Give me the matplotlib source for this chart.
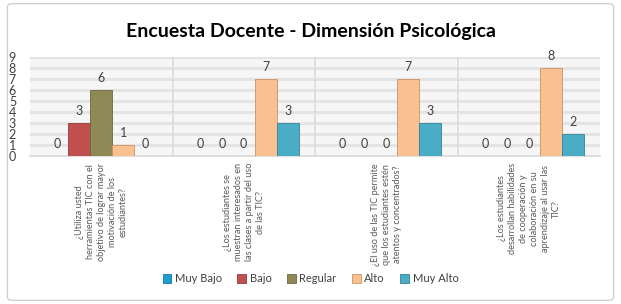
import matplotlib
matplotlib.use("Agg")
import matplotlib.pyplot as plt
import numpy as np
from matplotlib.patches import FancyBboxPatch

plt.rcParams['font.family'] = ['Lato', 'DejaVu Sans']

categories = [
    "¿Utiliza usted\nherramientas TIC con el\nobjetivo de lograr mayor\nmotivación de los\nestudiantes?",
    "¿Los estudiantes se\nmuestran interesados en\nlas clases a partir del uso\nde las TIC?",
    "¿El uso de las TIC permite\nque los estudiantes estén\natentos y concentrados?",
    "¿Los estudiantes\ndesarrollan habilidades\nde cooperación y\ncolaboración en su\naprendizaje al usar las\nTIC?",
]
series_names = ["Muy Bajo", "Bajo", "Regular", "Alto", "Muy Alto"]
muy_bajo = [0, 0, 0, 0]
bajo = [3, 0, 0, 0]
regular = [6, 0, 0, 0]
alto = [1, 7, 7, 8]
muy_alto = [0, 3, 3, 2]
series = [muy_bajo, bajo, regular, alto, muy_alto]
colors = ["#1f9fd0", "#c0504d", "#8f8a55", "#fac090", "#4bacc6"]
edges = ["#137aa0", "#933b39", "#6b673e", "#c89468", "#33849a"]

fig = plt.figure(figsize=(6.21, 3.04), dpi=100)
# outer border
border = FancyBboxPatch((0.012, 0.012), 0.976, 0.976, boxstyle="round,pad=0,rounding_size=0.01",
                        transform=fig.transFigure, facecolor="none", edgecolor="#d0d0d0", lw=1.0,
                        zorder=0)
fig.patches.append(border)

ax = fig.add_axes([30/621, 1-156/304, 570/621, 99/304])
ax.set_facecolor("#f6f6f6")
x = np.arange(len(categories))
w = 0.154
for i, (vals, c, ec, name) in enumerate(zip(series, colors, edges, series_names)):
    pos = x + (i - 2) * w
    ax.bar(pos, vals, width=w, color=c, edgecolor=ec, linewidth=0.6, label=name, zorder=3)
    for p, v in zip(pos, vals):
        ax.annotate(str(v), (p, v), xytext=(0, 4), textcoords="offset points",
                    ha="center", va="bottom", fontsize=9, color="#404040", zorder=4)

ax.set_xlim(-0.5, len(categories) - 0.5)
ax.set_ylim(0, 9)
ax.set_yticks(range(0, 10))
ax.tick_params(axis='y', length=0, labelsize=9, labelcolor="#404040", pad=10)
ax.set_xticks([])
for yv in range(1, 10):
    ax.axhline(yv, color="#e4e4e4", lw=2.2, zorder=1)
for xv in [0.5, 1.5, 2.5]:
    ax.axvline(xv, color="#dcdcdc", lw=1.2, zorder=1)
for s in ["top", "right", "left"]:
    ax.spines[s].set_visible(False)
ax.spines["bottom"].set_color("#d8d8d8")
ax.spines["bottom"].set_linewidth(1.2)

for xi, lab in zip(x, categories):
    ax.annotate(lab, (xi, 0), xytext=(0, -5), textcoords="offset points",
                rotation=90, ha="center", va="top", multialignment="center",
                fontsize=6.6, color="#595959", linespacing=1.3)

fig.text(0.5, 1-31/304, "Encuesta Docente - Dimensión Psicológica", ha="center", va="center",
         fontsize=14, fontweight="bold", color="#000000")

handles, labels = ax.get_legend_handles_labels()
fig.legend(handles, labels, loc="center", bbox_to_anchor=(0.5, 1-279/304), ncol=5,
           frameon=False, prop={"family": ["Lato", "DejaVu Sans"], "size": 8},
           handlelength=0.8, handleheight=0.8,
           handletextpad=0.3, columnspacing=1.4, labelcolor="#404040")

fig.savefig("out.png", dpi=100)
